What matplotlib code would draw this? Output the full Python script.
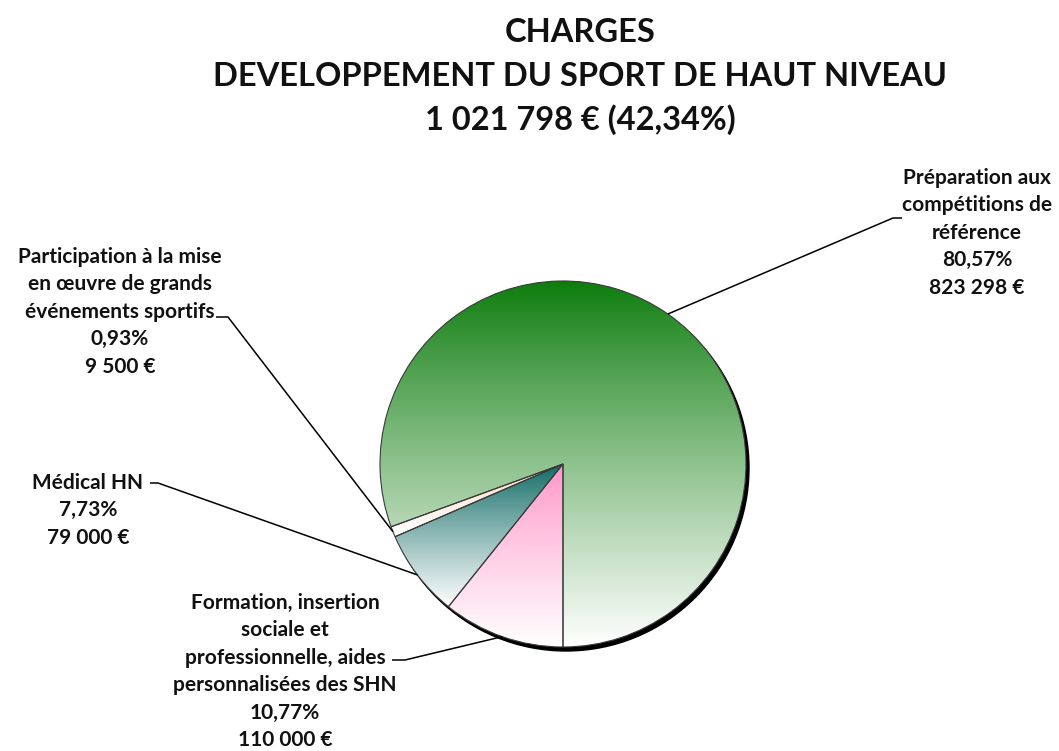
import numpy as np
import matplotlib
matplotlib.use('Agg')
import matplotlib.pyplot as plt
from matplotlib.colors import to_rgb
from matplotlib.patches import Circle

plt.rcParams['font.family'] = ['Lato', 'DejaVu Sans']
plt.rcParams['font.weight'] = 'bold'

# data, in the order drawn (counterclockwise on screen from 6 o'clock)
postes = ['Préparation aux\ncompétitions de\nréférence',
          'Participation à la mise\nen œuvre de grands\névénements sportifs',
          'Médical HN',
          'Formation, insertion\nsociale et\nprofessionnelle, aides\npersonnalisées des SHN']
montants = [823298, 9500, 79000, 110000]
pourcents = ['80,57%', '0,93%', '7,73%', '10,77%']
montants_txt = ['823 298 €', '9 500 €', '79 000 €', '110 000 €']
couleurs = ['#0c7c0c', '#fbdcc4', '#0f6a64', '#ff96c8']

titre = ['CHARGES', 'DEVELOPPEMENT DU SPORT DE HAUT NIVEAU', '1 021 798 € (42,34%)']

# label placement (pixel coords) : text centre x, first line y, elbow, end of leader
lab_x = [977, 120, 88, 285]
lab_y0 = [178, 257, 483, 603]
coude = [(893, 218), (228, 317), (158, 483), (405, 660)]
bout = [(902, 218), (216, 317), (150, 483), (392, 660)]

W, H = 1059, 751
fig = plt.figure(figsize=(W/100, H/100), dpi=100)
ax = fig.add_axes([0, 0, 1, 1])

cx, cy, r = 563, 464, 183

# shadow
ax.add_patch(Circle((cx+3, cy+4), r, color='black', zorder=1))

wedges, _ = ax.pie(montants, startangle=90, counterclock=False, center=(cx, cy), radius=r,
                   wedgeprops=dict(facecolor='none', edgecolor='#3a3a3a', linewidth=0.8))
for w in wedges:
    w.set_zorder(3)

# vertical gradient fill for each slice, from its colour at the top to white at the bottom
for w, c in zip(wedges, couleurs):
    bb = w.get_path().get_extents()
    t = np.linspace(0, 1, 256)[:, None] ** 0.9
    c0 = np.array(to_rgb(c))
    grad = c0[None, :] * (1 - t) + np.ones(3)[None, :] * t
    img = ax.imshow(grad[:, None, :], extent=(bb.x0, bb.x1, bb.y1, bb.y0), origin='upper',
                    aspect='auto', zorder=2, interpolation='bilinear')
    img.set_clip_path(w)

# labels and leader lines
for i, w in enumerate(wedges):
    th = np.deg2rad((w.theta1 + w.theta2) / 2)
    ax0 = cx + r*np.cos(th)
    ay0 = cy + r*np.sin(th)
    ax.plot([ax0, coude[i][0], bout[i][0]], [ay0, coude[i][1], bout[i][1]],
            color='black', lw=1.1, zorder=4, solid_capstyle='butt')
    lignes = postes[i].split('\n') + [pourcents[i], montants_txt[i]]
    for k, l in enumerate(lignes):
        ax.text(lab_x[i], lab_y0[i] + k*27.4, l, ha='center', va='center',
                fontsize=15, color='#111111')

for k, l in enumerate(titre):
    ax.text(580, 33 + k*43.5, l, ha='center', va='center', fontsize=23.5, color='#111111')

ax.set_xlim(0, W)
ax.set_ylim(H, 0)
ax.set_aspect('auto')
ax.axis('off')

fig.savefig('out.png', dpi=100)
